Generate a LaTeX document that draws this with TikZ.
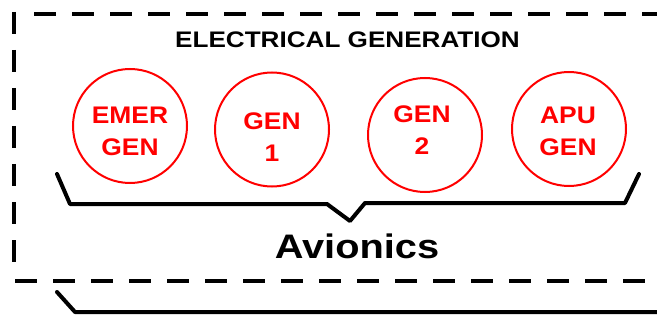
\documentclass[tikz,border=0pt]{standalone}
\usepackage{fontspec}
\setmainfont{Liberation Sans}
\definecolor{genred}{RGB}{255,0,0}
\begin{document}
\begin{tikzpicture}[x=1pt,y=-1pt,
  dashline/.style={line width=4pt,dash pattern=on 22pt off 16pt},
  brace/.style={line width=4pt,line cap=round,line join=round},
  gencircle/.style={circle,draw=genred,line width=2pt,minimum width=114pt,inner sep=0pt},
  gentext/.style={text=genred,inner sep=0pt,align=center,font=\fontsize{24}{32}\selectfont\bfseries},
  title/.style={inner sep=0pt,anchor=base}]
\useasboundingbox (0,0) rectangle (657,321);
% dashed frame
\coordinate (lt) at (14,12);
\coordinate (lb) at (14,264);
\coordinate (tl) at (34,14);
\coordinate (tr) at (657,14);
\coordinate (bl) at (15,281);
\coordinate (br) at (645,281);
\draw[dashline] (lt) -- (lb);
\draw[dashline] (tl) -- (tr);
\draw[dashline] (bl) -- (br);
% title
\node[title] (ttl) at (347.5,48) {\fontsize{22.5}{27}\selectfont\bfseries\scalebox{1.16}[1]{ELECTRICAL GENERATION}};
% generators
\node[gencircle,minimum width=114pt] (c1) at (130,126) {};
\node[gencircle,minimum width=114pt] (c2) at (272,129.5) {};
\node[gencircle,minimum width=114pt] (c3) at (425,135) {};
\node[gencircle,minimum width=114pt] (c4) at (569,129) {};
\node[gentext] (t1) at (130,131.5) {\scalebox{1.1}[1]{EMER}\\\scalebox{1.1}[1]{GEN}};
\node[gentext] (t2) at (272,137) {\scalebox{1.1}[1]{GEN}\\\scalebox{1.1}[1]{1}};
\node[gentext] (t3) at (422,130) {\scalebox{1.1}[1]{GEN}\\\scalebox{1.1}[1]{2}};
\node[gentext] (t4) at (568,131) {\scalebox{1.1}[1]{APU}\\\scalebox{1.1}[1]{GEN}};
% brace
\coordinate (b1) at (57,174);
\coordinate (b2) at (70,204);
\coordinate (b3) at (327,204);
\coordinate (b4) at (350,221);
\coordinate (b5) at (365,203);
\coordinate (b6) at (625,203);
\coordinate (b7) at (639,174);
\draw[brace] (b1) -- (b2) -- (b3) -- (b4) -- (b5) -- (b6) -- (b7);
\node[title] (avi) at (357,258) {\fontsize{34}{40}\selectfont\bfseries\scalebox{1.17}[1]{Avionics}};
% lower brace
\coordinate (d1) at (57,292);
\coordinate (d2) at (75,312);
\coordinate (d3) at (660,312);
\draw[brace] (d1) -- (d2) -- (d3);
\end{tikzpicture}
\end{document}
